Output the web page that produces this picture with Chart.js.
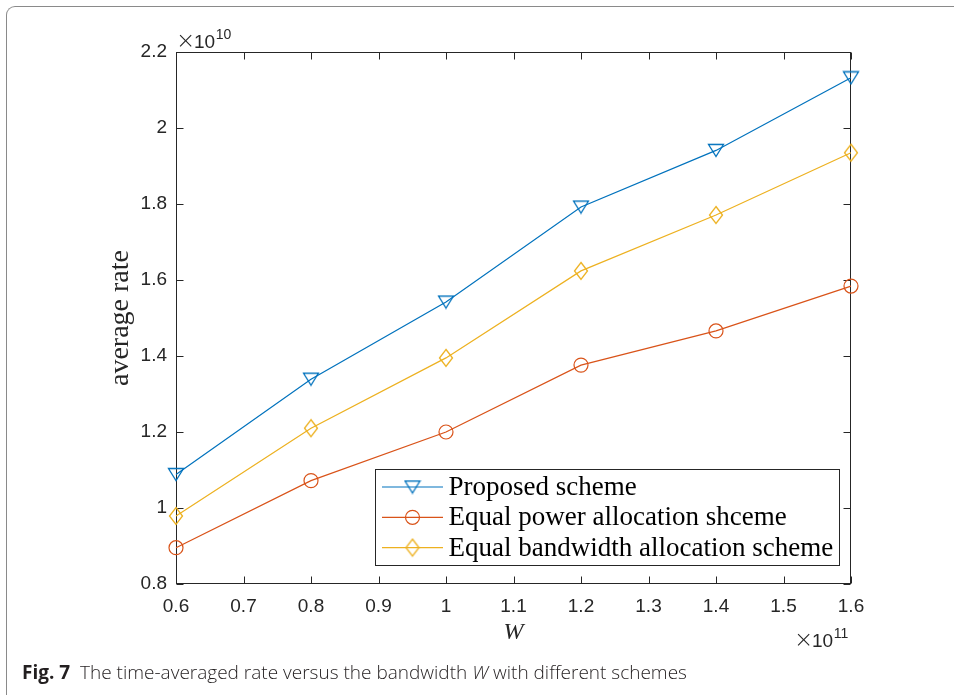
<!DOCTYPE html>
<html><head><meta charset="utf-8">
<script src="https://cdn.jsdelivr.net/npm/chart.js@4.4.1/dist/chart.umd.min.js"></script>
<style>
html,body{margin:0;padding:0;background:#fff;width:954px;height:695px;overflow:hidden;}
#frame{position:absolute;left:6px;top:6px;width:1000px;height:800px;border-top:1.5px solid #8a8a8a;border-left:1.5px solid #8a8a8a;border-top-left-radius:9px;}
#c{position:absolute;left:0;top:0;}
#cap{position:absolute;left:22px;top:659px;font-family:'Open Sans',sans-serif;font-size:19px;color:#231f20;white-space:nowrap;}
#cap b{font-weight:700;}
#cap span{font-weight:300;}
</style></head><body>
<div id="frame"></div>
<canvas id="c" width="954" height="695"></canvas>
<div id="cap"><b>Fig. 7</b>&nbsp; <span>The time-averaged rate versus the bandwidth <i>W</i> with different schemes</span></div>
<script>
// ---- data (x in units of 1e11, y in units of 1e10) ----
const bandwidth = [0.6, 0.8, 1.0, 1.2, 1.4, 1.6];
const proposed = [1.088, 1.339, 1.542, 1.792, 1.941, 2.132];
const equalPower = [0.8955, 1.072, 1.200, 1.376, 1.466, 1.584];
const equalBandwidth = [0.979, 1.210, 1.395, 1.624, 1.771, 1.935];
const seriesNames = ['Proposed scheme', 'Equal power allocation shceme', 'Equal bandwidth allocation scheme'];
const xTickValues = [0.6, 0.7, 0.8, 0.9, 1.0, 1.1, 1.2, 1.3, 1.4, 1.5, 1.6];
const yTickValues = [0.8, 1.0, 1.2, 1.4, 1.6, 1.8, 2.0, 2.2];
const xExponent = '11';
const yExponent = '10';
const xTitle = 'W';
const yTitle = 'average rate';

const AX = '#262626';
const C_BLUE = '#0072BD', C_RED = '#D95319', C_YEL = '#EDB120';

function markerCanvas(type, color) {
  const c = document.createElement('canvas');
  let w, h;
  if (type === 'tri') { w = 18; h = 15; } else { w = 16; h = 20; }
  c.width = w; c.height = h;
  const g = c.getContext('2d');
  g.strokeStyle = color; g.lineWidth = 1.3; g.lineJoin = 'miter';
  g.beginPath();
  if (type === 'tri') { g.moveTo(1.5, 1.5); g.lineTo(16.5, 1.5); g.lineTo(9, 13.5); g.closePath(); }
  else { g.moveTo(8, 1.5); g.lineTo(14.5, 10); g.lineTo(8, 18.5); g.lineTo(1.5, 10); g.closePath(); }
  g.stroke();
  return c;
}
const triImg = markerCanvas('tri', C_BLUE);
const diaImg = markerCanvas('dia', C_YEL);

const fmt = v => String(Math.round(v * 10) / 10);
const pts = arr => bandwidth.map((x, i) => ({ x: x, y: arr[i] }));

function drawExp(ctx, x0, base, exp) {
  ctx.font = '300 23px "DejaVu Sans"';
  ctx.fillText('\u00d7', x0 - 1, base);
  ctx.font = '19px "Liberation Sans"';
  ctx.fillText('10', x0 + 17, base);
  const w = ctx.measureText('10').width;
  ctx.font = '14px "Liberation Sans"';
  ctx.fillText(exp, x0 + 17 + w + 0.5, base - 9);
}

const boxPlugin = {
  id: 'boxPlugin',
  beforeDatasetsDraw(chart) {
    const { ctx, chartArea: a, scales: { x, y } } = chart;
    ctx.save();
    ctx.strokeStyle = AX; ctx.lineWidth = 1;
    const L = Math.round(a.left) + 0.5, R = Math.round(a.right) - 0.5;
    const T = Math.round(a.top) + 0.5, B = Math.round(a.bottom) - 0.5;
    ctx.strokeRect(L, T, R - L, B - T);
    const tl = 7;
    ctx.beginPath();
    x.ticks.forEach(t => {
      const px = Math.round(x.getPixelForValue(t.value)) + 0.5;
      ctx.moveTo(px, B); ctx.lineTo(px, B - tl);
      ctx.moveTo(px, T); ctx.lineTo(px, T + tl);
    });
    y.ticks.forEach(t => {
      const py = Math.round(y.getPixelForValue(t.value)) + 0.5;
      ctx.moveTo(L, py); ctx.lineTo(L + tl, py);
      ctx.moveTo(R, py); ctx.lineTo(R - tl, py);
    });
    ctx.stroke();
    ctx.restore();
  },
  afterDraw(chart) {
    const { ctx, chartArea: a } = chart;
    ctx.save();
    // exponent labels
    ctx.fillStyle = AX;
    ctx.textBaseline = 'alphabetic';
    ctx.textAlign = 'left';
    drawExp(ctx, a.left + 1, a.top - 4, yExponent);
    drawExp(ctx, a.right - 56, a.bottom + 63, xExponent);

    // legend
    ctx.font = '27px "Liberation Serif"';
    const maxW = Math.max(...seriesNames.map(s => ctx.measureText(s).width));
    const boxW = Math.round(73 + maxW + 7), boxH = 97;
    const R = Math.round(a.right - 11), Bt = Math.round(a.bottom - 18);
    const Lx = R - boxW, Ty = Bt - boxH;
    ctx.fillStyle = '#fff';
    ctx.fillRect(Lx, Ty, boxW, boxH);
    ctx.strokeStyle = AX; ctx.lineWidth = 1;
    ctx.strokeRect(Lx + 0.5, Ty + 0.5, boxW - 1, boxH - 1);
    const colors = [C_BLUE, C_RED, C_YEL];
    ctx.textBaseline = 'middle';
    for (let i = 0; i < 3; i++) {
      const yy = Ty + 18 + i * 30.3;
      ctx.strokeStyle = colors[i]; ctx.lineWidth = 1.2;
      ctx.beginPath(); ctx.moveTo(Lx + 7, yy); ctx.lineTo(Lx + 68, yy); ctx.stroke();
      const mx = Lx + 37.5;
      if (i === 0) ctx.drawImage(triImg, mx - 9, yy - 7.5);
      else if (i === 2) ctx.drawImage(diaImg, mx - 8, yy - 10);
      else { ctx.beginPath(); ctx.arc(mx, yy, 7, 0, Math.PI * 2); ctx.stroke(); }
      ctx.fillStyle = '#000';
      ctx.fillText(seriesNames[i], Lx + 73.5, yy + 1);
    }
    ctx.restore();
  }
};

const common = { borderWidth: 1.2, fill: false, tension: 0, clip: false, pointBorderWidth: 1.2,
  pointBackgroundColor: 'rgba(0,0,0,0)', backgroundColor: 'rgba(0,0,0,0)' };

new Chart(document.getElementById('c'), {
  type: 'line',
  data: {
    datasets: [
      Object.assign({ label: seriesNames[0], data: pts(proposed), borderColor: C_BLUE, pointBorderColor: C_BLUE, pointStyle: triImg, pointRadius: 8 }, common),
      Object.assign({ label: seriesNames[1], data: pts(equalPower), borderColor: C_RED, pointBorderColor: C_RED, pointStyle: 'circle', pointRadius: 7 }, common),
      Object.assign({ label: seriesNames[2], data: pts(equalBandwidth), borderColor: C_YEL, pointBorderColor: C_YEL, pointStyle: diaImg, pointRadius: 8 }, common)
    ]
  },
  options: {
    responsive: false,
    animation: false,
    events: [],
    layout: { padding: { top: 52, right: 103, left: 0, bottom: 0 } },
    plugins: { legend: { display: false }, tooltip: { enabled: false } },
    scales: {
      x: {
        type: 'linear', min: 0.6, max: 1.6,
        afterBuildTicks: s => { s.ticks = xTickValues.map(v => ({ value: v })); },
        afterFit: s => { s.height = 111; },
        grid: { display: false, drawTicks: false },
        border: { display: false },
        ticks: { font: { family: 'Liberation Sans', size: 19 }, color: AX, padding: 11, maxRotation: 0, autoSkip: false, callback: v => fmt(v) },
        title: { display: true, text: xTitle, color: AX, font: { family: 'Liberation Serif', size: 24, style: 'italic' }, padding: { top: 0, bottom: 48 } }
      },
      y: {
        type: 'linear', min: 0.8, max: 2.2,
        afterBuildTicks: s => { s.ticks = yTickValues.map(v => ({ value: v })); },
        afterFit: s => { s.width = 176; },
        grid: { display: false, drawTicks: false },
        border: { display: false },
        ticks: { font: { family: 'Liberation Sans', size: 19 }, color: AX, padding: 9, autoSkip: false, callback: v => fmt(v) },
        title: { display: true, text: yTitle, color: AX, font: { family: 'Liberation Serif', size: 28 }, padding: { top: 104, bottom: 0 } }
      }
    }
  },
  plugins: [boxPlugin]
});
</script>
</body></html>
